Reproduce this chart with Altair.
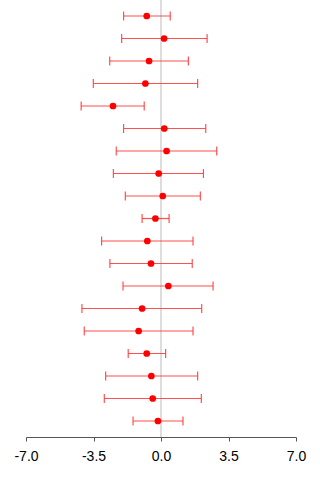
import altair as alt
import pandas as pd

# Estimates with lower/upper confidence limits, listed top to bottom
row = list(range(1, 20))
estimate = [-0.74, 0.16, -0.62, -0.81, -2.49, 0.17, 0.29, -0.12, 0.09, -0.29,
            -0.71, -0.52, 0.38, -0.98, -1.16, -0.74, -0.50, -0.43, -0.16]
lower = [-1.94, -2.04, -2.66, -3.51, -4.14, -1.94, -2.32, -2.47, -1.85, -0.98,
         -3.08, -2.65, -1.97, -4.10, -3.98, -1.70, -2.87, -2.94, -1.45]
upper = [0.48, 2.39, 1.42, 1.90, -0.87, 2.32, 2.89, 2.20, 2.04, 0.42,
         1.66, 1.62, 2.70, 2.11, 1.66, 0.24, 1.90, 2.09, 1.14]
x_ticks = [-7.0, -3.5, 0.0, 3.5, 7.0]

df = pd.DataFrame({"row": row, "est": estimate, "lo": lower, "hi": upper})

xscale = alt.Scale(domain=[-7, 7], nice=False, zero=False)
yscale = alt.Scale(domain=[0.289, 19.711], reverse=True, nice=False, zero=False)

x_axis = alt.Axis(
    values=x_ticks, grid=False, title=None,
    domainColor="#555555", tickColor="#555555", tickSize=4,
    labelFont="Liberation Sans", labelFontSize=14, labelColor="black",
    labelPadding=8, labelFlush=False,
    labelExpr="replace(format(datum.value, '.1f'), '\u2212', '-')",
)

base = alt.Chart(df)

zero_line = base.mark_rule(color="#dddddd", strokeWidth=2).encode(
    x=alt.datum(0, scale=xscale, axis=x_axis)
)

bars = base.mark_rule(color="#ff3333", strokeWidth=1.2, opacity=0.85).encode(
    x=alt.X("lo:Q", scale=xscale, axis=x_axis),
    x2="hi:Q",
    y=alt.Y("row:Q", scale=yscale, axis=None),
)

cap_lo = base.mark_tick(orient="vertical", color="#ff3333", size=9,
                        thickness=1.2, opacity=0.85).encode(
    x=alt.X("lo:Q", scale=xscale),
    y=alt.Y("row:Q", scale=yscale),
)
cap_hi = base.mark_tick(orient="vertical", color="#ff3333", size=9,
                        thickness=1.2, opacity=0.85).encode(
    x=alt.X("hi:Q", scale=xscale),
    y=alt.Y("row:Q", scale=yscale),
)

points = base.mark_circle(color="#ff0000", size=45, opacity=1).encode(
    x=alt.X("est:Q", scale=xscale),
    y=alt.Y("row:Q", scale=yscale),
)

chart = alt.layer(zero_line, bars, cap_lo, cap_hi, points).properties(
    width=270, height=437,
    autosize=alt.AutoSizeParams(type="none"),
    padding={"left": 26, "top": 0, "right": 24, "bottom": 43},
).configure(background="white").configure_view(stroke=None)

chart.save("out.html", embed_options={"renderer": "svg", "actions": False})
